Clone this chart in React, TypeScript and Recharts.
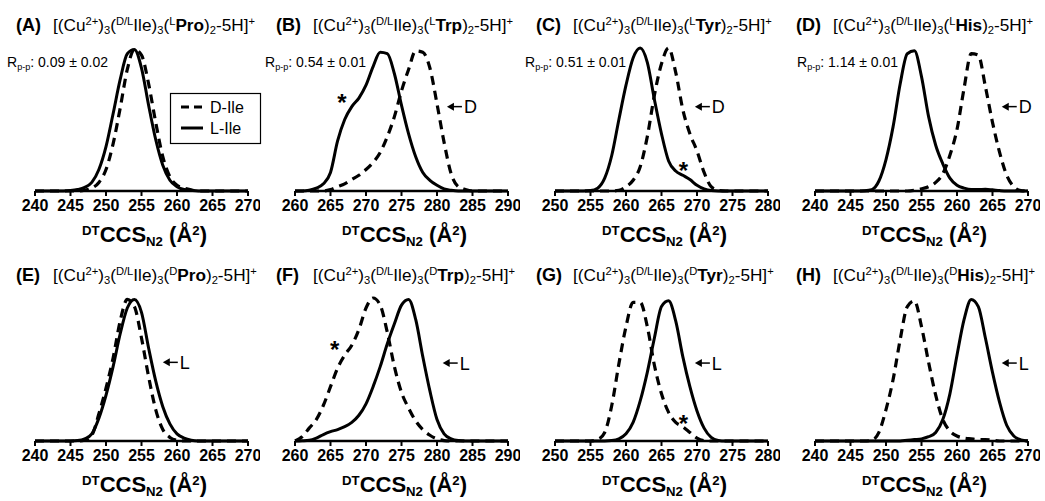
import React from "react";
import { LineChart, Line, XAxis, YAxis, ReferenceDot } from "recharts";

const FONT = '"Liberation Sans", Arial, sans-serif';

// x positions (Å²), one reading per Å²
const X240 = [240, 241, 242, 243, 244, 245, 246, 247, 248, 249, 250, 251, 252, 253, 254, 255, 256, 257, 258, 259, 260, 261, 262, 263, 264, 265, 266, 267, 268, 269, 270];
const X250 = [250, 251, 252, 253, 254, 255, 256, 257, 258, 259, 260, 261, 262, 263, 264, 265, 266, 267, 268, 269, 270, 271, 272, 273, 274, 275, 276, 277, 278, 279, 280];
const X260 = [260, 261, 262, 263, 264, 265, 266, 267, 268, 269, 270, 271, 272, 273, 274, 275, 276, 277, 278, 279, 280, 281, 282, 283, 284, 285, 286, 287, 288, 289, 290];

const TICKS240 = [240, 245, 250, 255, 260, 265, 270];
const TICKS250 = [250, 255, 260, 265, 270, 275, 280];
const TICKS260 = [260, 265, 270, 275, 280, 285, 290];

// normalised intensities, D-Ile (dashed) and L-Ile (solid)
const A_D = [0, 0, 0, 0, 0, 0, 0, 0.005, 0.02, 0.06, 0.15, 0.33, 0.58, 0.85, 0.99, 0.95, 0.75, 0.48, 0.24, 0.1, 0.04, 0.02, 0.008, 0, 0, 0, 0, 0, 0, 0, 0];
const A_L = [0, 0, 0, 0, 0, 0.003, 0.01, 0.025, 0.06, 0.15, 0.31, 0.54, 0.78, 0.96, 0.99, 0.86, 0.6, 0.36, 0.18, 0.075, 0.03, 0.01, 0.004, 0, 0, 0, 0, 0, 0, 0, 0];

const B_D = [0, 0, 0, 0, 0, 0.01, 0.03, 0.05, 0.08, 0.11, 0.15, 0.2, 0.27, 0.38, 0.52, 0.7, 0.85, 0.98, 0.97, 0.86, 0.61, 0.34, 0.12, 0.03, 0.01, 0, 0, 0, 0, 0, 0];
const B_L = [0, 0, 0.005, 0.02, 0.05, 0.13, 0.35, 0.5, 0.59, 0.65, 0.74, 0.87, 0.97, 0.96, 0.82, 0.6, 0.4, 0.24, 0.13, 0.075, 0.04, 0.015, 0.005, 0, 0, 0, 0, 0, 0, 0, 0];

const C_D = [0, 0, 0, 0, 0, 0, 0, 0, 0, 0.005, 0.03, 0.075, 0.17, 0.38, 0.67, 0.89, 1.0, 0.83, 0.57, 0.4, 0.28, 0.13, 0.03, 0.005, 0, 0, 0, 0, 0, 0, 0];
const C_L = [0, 0, 0, 0, 0, 0.003, 0.02, 0.09, 0.25, 0.5, 0.74, 0.93, 1.0, 0.9, 0.64, 0.4, 0.21, 0.14, 0.11, 0.08, 0.04, 0.015, 0.003, 0, 0, 0, 0, 0, 0, 0, 0];

const D_D = [0, 0, 0, 0, 0, 0, 0, 0, 0, 0, 0, 0, 0, 0, 0.005, 0.015, 0.03, 0.06, 0.12, 0.25, 0.43, 0.72, 0.96, 0.95, 0.73, 0.48, 0.27, 0.11, 0.03, 0.003, 0];
const D_L = [0, 0, 0, 0, 0, 0, 0, 0.002, 0.01, 0.07, 0.22, 0.45, 0.75, 0.96, 0.98, 0.8, 0.52, 0.32, 0.19, 0.09, 0.04, 0.02, 0.01, 0.01, 0.012, 0.008, 0.003, 0, 0, 0, 0];

const E_D = [0, 0, 0, 0, 0, 0, 0, 0.005, 0.04, 0.19, 0.37, 0.58, 0.84, 0.99, 0.94, 0.72, 0.45, 0.22, 0.08, 0.025, 0.005, 0, 0, 0, 0, 0, 0, 0, 0, 0, 0];
const E_L = [0, 0, 0, 0, 0, 0, 0.003, 0.015, 0.05, 0.16, 0.32, 0.52, 0.75, 0.93, 0.99, 0.9, 0.65, 0.42, 0.24, 0.12, 0.05, 0.02, 0.005, 0, 0, 0, 0, 0, 0, 0, 0];

const F_D = [0, 0.03, 0.09, 0.15, 0.25, 0.38, 0.51, 0.6, 0.67, 0.78, 0.93, 1.0, 0.95, 0.76, 0.52, 0.34, 0.23, 0.14, 0.08, 0.04, 0.015, 0.003, 0, 0, 0, 0, 0, 0, 0, 0, 0];
const F_L = [0, 0.002, 0.005, 0.02, 0.045, 0.065, 0.08, 0.1, 0.13, 0.18, 0.26, 0.38, 0.52, 0.68, 0.82, 0.95, 0.99, 0.85, 0.59, 0.35, 0.15, 0.05, 0.015, 0.003, 0, 0, 0, 0, 0, 0, 0];

const G_D = [0, 0, 0, 0, 0, 0, 0.01, 0.06, 0.25, 0.54, 0.8, 0.97, 0.97, 0.8, 0.53, 0.33, 0.2, 0.13, 0.1, 0.06, 0.02, 0.003, 0, 0, 0, 0, 0, 0, 0, 0, 0];
const G_L = [0, 0, 0, 0, 0, 0, 0, 0, 0.003, 0.015, 0.05, 0.13, 0.28, 0.48, 0.72, 0.94, 0.98, 0.84, 0.59, 0.38, 0.21, 0.09, 0.025, 0.004, 0, 0, 0, 0, 0, 0, 0];

const H_D = [0, 0, 0, 0, 0, 0, 0, 0, 0.005, 0.06, 0.22, 0.43, 0.71, 0.94, 0.98, 0.8, 0.55, 0.32, 0.15, 0.07, 0.035, 0.02, 0.015, 0.01, 0.01, 0.005, 0, 0, 0, 0, 0];
const H_L = [0, 0, 0, 0, 0, 0, 0, 0, 0, 0, 0, 0, 0, 0.005, 0.01, 0.015, 0.03, 0.06, 0.15, 0.33, 0.6, 0.85, 0.99, 0.94, 0.72, 0.48, 0.27, 0.11, 0.035, 0.008, 0];

type Part = [string, "n" | "b" | "sup" | "sub"];

function RichText({ x, y, size, parts, bold, anchor, supUp = 0.36, subDown = 0.2, small = 0.65 }: any) {
  let shift = 0;
  return (
    <text x={x} y={y} fontFamily={FONT} fontSize={size} fontWeight={bold ? "bold" : "normal"} fill="#000" textAnchor={anchor || "start"}>
      {(parts as Part[]).map(([t, k], i) => {
        const target = k === "sup" ? -supUp * size : k === "sub" ? subDown * size : 0;
        const dy = target - shift;
        shift = target;
        const fs = k === "sup" || k === "sub" ? size * small : size;
        return (
          <tspan key={i} dy={dy} fontSize={fs} fontWeight={k === "b" || bold ? "bold" : "normal"}>
            {t}
          </tspan>
        );
      })}
    </text>
  );
}

const axisTitle = (props: any) => {
  const vb = props.viewBox || { x: 35, y: 191, width: 213 };
  return (
    <RichText
      x={vb.x + vb.width / 2 + 3}
      y={vb.y + 51}
      size={22}
      bold
      anchor="middle"
      supUp={0.3}
      subDown={0.18}
      small={0.6}
      parts={[["DT", "sup"], ["CCS", "n"], ["N2", "sub"], [" (Å", "n"], ["2", "sup"], [")", "n"]]}
    />
  );
};

const starMark = (props: any) => {
  const { x, y, width, height } = props.viewBox;
  const cx = x + width / 2;
  const cy = y + height / 2;
  return (
    <text x={cx} y={cy + 14} textAnchor="middle" fontFamily={FONT} fontSize={24} fontWeight="bold" fill="#000">
      *
    </text>
  );
};

const arrowMark = (label: string) => (props: any) => {
  const { x, y, width, height } = props.viewBox;
  const cx = x + width / 2;
  const cy = y + height / 2;
  return (
    <g>
      <line x1={cx + 5} y1={cy} x2={cx + 15} y2={cy} stroke="#000" strokeWidth={1.5} />
      <polygon points={`${cx},${cy} ${cx + 7},${cy - 4} ${cx + 7},${cy + 4}`} fill="#000" />
      <text x={cx + 17} y={cy + 6.5} fontFamily={FONT} fontSize={18} fill="#000">
        {label}
      </text>
    </g>
  );
};

const panels = [
  { tag: "A", iso: "L", aa: "Pro", xs: X240, ticks: TICKS240, dIle: A_D, lIle: A_L, rpp: "0.09 ± 0.02", rppX: 7, legend: true },
  { tag: "B", iso: "L", aa: "Trp", xs: X260, ticks: TICKS260, dIle: B_D, lIle: B_L, rpp: "0.54 ± 0.01", rppX: 5, star: [266.6, 0.66], arrow: [281.4, 0.59, "D"] },
  { tag: "C", iso: "L", aa: "Tyr", xs: X250, ticks: TICKS250, dIle: C_D, lIle: C_L, rpp: "0.51 ± 0.01", rppX: 5, star: [268.1, 0.18], arrow: [269.7, 0.59, "D"] },
  { tag: "D", iso: "L", aa: "His", xs: X240, ticks: TICKS240, dIle: D_D, lIle: D_L, rpp: "1.14 ± 0.01", rppX: 17, arrow: [266.3, 0.59, "D"] },
  { tag: "E", iso: "D", aa: "Pro", xs: X240, ticks: TICKS240, dIle: E_D, lIle: E_L, arrow: [258.0, 0.55, "L"] },
  { tag: "F", iso: "D", aa: "Trp", xs: X260, ticks: TICKS260, dIle: F_D, lIle: F_L, star: [265.6, 0.68], arrow: [280.8, 0.545, "L"] },
  { tag: "G", iso: "D", aa: "Tyr", xs: X250, ticks: TICKS250, dIle: G_D, lIle: G_L, star: [268.1, 0.16], arrow: [269.7, 0.545, "L"] },
  { tag: "H", iso: "D", aa: "His", xs: X240, ticks: TICKS240, dIle: H_D, lIle: H_L, arrow: [266.3, 0.545, "L"] },
];

function Panel({ p, left, top }: any) {
  const rows = p.xs.map((x: number, i: number) => ({ x, d: p.dIle[i], l: p.lIle[i] }));
  const lo = p.xs[0];
  const hi = p.xs[p.xs.length - 1];
  return (
    <div style={{ position: "absolute", left, top, width: 260, height: 250 }}>
      <LineChart width={260} height={250} data={rows} margin={{ top: 48, right: 12, bottom: 0, left: 35 }} style={{ overflow: "visible" }}>
        <XAxis
          dataKey="x"
          type="number"
          domain={[lo, hi]}
          ticks={p.ticks}
          interval={0}
          height={59}
          tickSize={5}
          tickMargin={4}
          axisLine={{ stroke: "#000", strokeWidth: 2.5 }}
          tickLine={{ stroke: "#000", strokeWidth: 2 }}
          tick={{ fill: "#000", fontSize: 16, fontWeight: "bold", fontFamily: FONT }}
          label={{ content: axisTitle }}
        />
        <YAxis hide domain={[0, 1]} />
        <Line dataKey="d" type="monotone" stroke="#000" strokeWidth={3.2} strokeDasharray="9 6" dot={false} isAnimationActive={false} />
        <Line dataKey="l" type="monotone" stroke="#000" strokeWidth={3} dot={false} isAnimationActive={false} />
        {p.star && (
          <ReferenceDot x={p.star[0]} y={p.star[1]} r={1} fill="none" stroke="none" ifOverflow="visible" label={{ content: starMark }} />
        )}
        {p.arrow && (
          <ReferenceDot x={p.arrow[0]} y={p.arrow[1]} r={1} fill="none" stroke="none" ifOverflow="visible" label={{ content: arrowMark(p.arrow[2]) }} />
        )}
      </LineChart>
      <svg width={260} height={250} style={{ position: "absolute", left: 0, top: 0, overflow: "visible", pointerEvents: "none" }}>
        <text x={16} y={31} fontFamily={FONT} fontSize={18} fontWeight="bold" fill="#000">
          ({p.tag})
        </text>
        <RichText
          x={53}
          y={31}
          size={17.2}
          parts={[
            ["[(Cu", "n"], ["2+", "sup"], [")", "n"], ["3", "sub"], ["(", "n"], ["D/L", "sup"], ["Ile)", "n"], ["3", "sub"],
            ["(", "n"], [p.iso, "sup"], [p.aa, "b"], [")", "n"], ["2", "sub"], ["-5H]", "n"], ["+", "sup"],
          ]}
        />
        {p.rpp && (
          <RichText x={p.rppX} y={67} size={14} parts={[["R", "n"], ["p-p", "sub"], [": " + p.rpp, "n"]]} />
        )}
        {p.legend && (
          <g>
            <rect x={170.5} y={93.5} width={90} height={50} fill="#fff" stroke="#000" strokeWidth={1.2} />
            <line x1={181} y1={107} x2={203} y2={107} stroke="#000" strokeWidth={3} strokeDasharray="8 5" />
            <line x1={181} y1={128} x2={203} y2={128} stroke="#000" strokeWidth={3} />
            <text x={210} y={113} fontFamily={FONT} fontSize={16} fill="#000">D-Ile</text>
            <text x={210} y={134} fontFamily={FONT} fontSize={16} fill="#000">L-Ile</text>
          </g>
        )}
      </svg>
    </div>
  );
}

export default function App() {
  return (
    <div style={{ position: "absolute", left: 0, top: 0, width: 1045, height: 501, background: "#fff", overflow: "hidden" }}>
      {panels.map((p, i) => (
        <Panel key={p.tag} p={p} left={(i % 4) * 260} top={Math.floor(i / 4) * 250} />
      ))}
    </div>
  );
}
